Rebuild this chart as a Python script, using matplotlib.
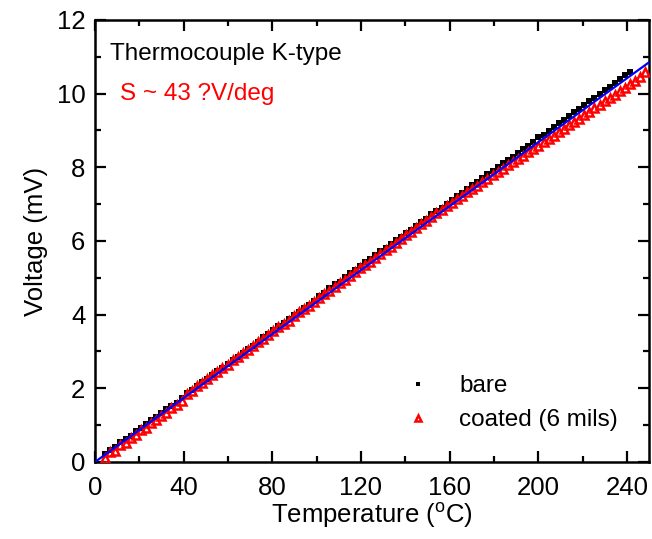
import matplotlib
matplotlib.use('Agg')
import matplotlib.pyplot as plt
from matplotlib.ticker import MultipleLocator

plt.rcParams['font.family'] = ['Liberation Sans', 'DejaVu Sans']
plt.rcParams['mathtext.fontset'] = 'custom'
plt.rcParams['mathtext.rm'] = 'Liberation Sans'

# temperatures (degC)
temp_bare = [4.6, 6.9, 9.2, 11.5, 13.8, 16.1, 18.4, 20.7, 23.0, 25.3, 27.6, 29.9,
             32.2, 34.5, 36.8, 39.1, 41.4, 43.7, 46.0, 48.3, 50.6, 52.9, 55.2, 57.5,
             59.8, 62.1, 64.4, 66.7, 69.0, 71.3, 73.6, 75.9, 78.2, 80.5, 82.8, 85.1,
             87.4, 89.7, 92.0, 94.3, 96.6, 98.9, 101.2, 103.5, 105.8, 108.1, 110.4,
             112.7, 115.0, 117.3, 119.6, 121.9, 124.2, 126.5, 128.8, 131.1, 133.4,
             135.7, 138.0, 140.3, 142.6, 144.9, 147.2, 149.5, 151.8, 154.1, 156.4,
             158.7, 161.0, 163.3, 165.6, 167.9, 170.2, 172.5, 174.8, 177.1, 179.4,
             181.7, 184.0, 186.3, 188.6, 190.9, 193.2, 195.5, 197.8, 200.1, 202.4,
             204.7, 207.0, 209.3, 211.6, 213.9, 216.2, 218.5, 220.8, 223.1, 225.4,
             227.7, 230.0, 232.3, 234.6, 236.9, 239.2, 241.5]
volt_bare = [0.22, 0.32, 0.41, 0.53, 0.62, 0.71, 0.83, 0.92, 1.02, 1.13, 1.21, 1.32,
             1.43, 1.52, 1.61, 1.73, 1.86, 1.96, 2.07, 2.18, 2.26, 2.37, 2.48, 2.56,
             2.67, 2.78, 2.86, 2.97, 3.08, 3.16, 3.27, 3.38, 3.47, 3.57, 3.68, 3.77,
             3.87, 3.98, 4.08, 4.18, 4.27, 4.38, 4.51, 4.60, 4.71, 4.82, 4.90, 5.01,
             5.12, 5.20, 5.31, 5.42, 5.50, 5.61, 5.72, 5.81, 5.91, 6.02, 6.12, 6.21,
             6.31, 6.42, 6.52, 6.61, 6.72, 6.82, 6.90, 7.01, 7.12, 7.21, 7.31, 7.42,
             7.51, 7.60, 7.71, 7.82, 7.90, 8.00, 8.11, 8.20, 8.29, 8.40, 8.51, 8.59,
             8.70, 8.81, 8.89, 8.99, 9.10, 9.19, 9.29, 9.40, 9.50, 9.59, 9.70, 9.80,
             9.89, 9.99, 10.10, 10.19, 10.29, 10.40, 10.50, 10.59]

temp_coated = temp_bare + [243.8, 246.1, 248.4]
volt_coated = [0.12, 0.26, 0.31, 0.47, 0.52, 0.66, 0.72, 0.86, 0.93, 1.05, 1.13, 1.26,
               1.33, 1.46, 1.55, 1.66, 1.85, 1.94, 2.05, 2.15, 2.24, 2.35, 2.45, 2.55,
               2.64, 2.76, 2.85, 2.95, 3.04, 3.15, 3.26, 3.35, 3.44, 3.55, 3.66, 3.75,
               3.84, 3.95, 4.06, 4.15, 4.24, 4.35, 4.46, 4.55, 4.64, 4.75, 4.86, 4.95,
               5.04, 5.15, 5.26, 5.35, 5.44, 5.55, 5.66, 5.75, 5.84, 5.95, 6.06, 6.15,
               6.24, 6.35, 6.46, 6.55, 6.64, 6.75, 6.85, 6.94, 7.04, 7.13, 7.22, 7.32,
               7.41, 7.50, 7.60, 7.69, 7.78, 7.87, 7.96, 8.05, 8.15, 8.23, 8.32, 8.42,
               8.50, 8.59, 8.68, 8.78, 8.86, 8.96, 9.04, 9.14, 9.23, 9.32, 9.42, 9.50,
               9.60, 9.69, 9.79, 9.88, 9.97, 10.07, 10.16, 10.26, 10.35, 10.44, 10.58]

# linear fit, mV per degC
fit_slope = 0.0434
fit_range = [0, 250]

fig = plt.figure(figsize=(6.52, 5.39), dpi=100)
ax = fig.add_axes([0.1457, 0.1429, 0.8497, 0.8200])

ax.plot(temp_bare, volt_bare, 's', color='black', ms=4.2, mew=0, label='bare', zorder=2)
ax.plot(temp_coated, volt_coated, '^', mfc='none', mec='red', ms=5.5, mew=1.8,
        label='coated (6 mils)', zorder=3)
ax.plot(fit_range, [fit_slope * t for t in fit_range], color='blue', lw=1.6, zorder=4)

ax.set_xlim(0, 250)
ax.set_ylim(0, 12)
ax.xaxis.set_major_locator(MultipleLocator(40))
ax.xaxis.set_minor_locator(MultipleLocator(20))
ax.yaxis.set_major_locator(MultipleLocator(2))
ax.yaxis.set_minor_locator(MultipleLocator(1))
ax.tick_params(which='both', direction='in', top=True, right=True, width=1.6, labelsize=18.5)
ax.tick_params(which='major', length=8)
ax.tick_params(which='minor', length=4)
ax.tick_params(axis='x', pad=10)
ax.tick_params(axis='y', pad=7)
for s in ax.spines.values():
    s.set_linewidth(1.8)

ax.set_xlabel(r'Temperature ($^\mathrm{o}$C)', fontsize=18.5, labelpad=0)
ax.set_ylabel('Voltage (mV)', fontsize=18.5, labelpad=6)

ax.text(0.027, 0.947, 'Thermocouple K-type', transform=ax.transAxes, fontsize=17.5,
        va='top', ha='left')
ax.text(0.045, 0.857, 'S ~ 43 ?V/deg', transform=ax.transAxes, fontsize=17.5,
        va='top', ha='left', color='red')

leg = ax.legend(loc='lower right', bbox_to_anchor=(0.983, 0.02), frameon=False,
                fontsize=17.5, handletextpad=1.2, labelspacing=0.5,
                handlelength=1.0, markerscale=0.7)

fig.savefig('out.png', dpi=100)
